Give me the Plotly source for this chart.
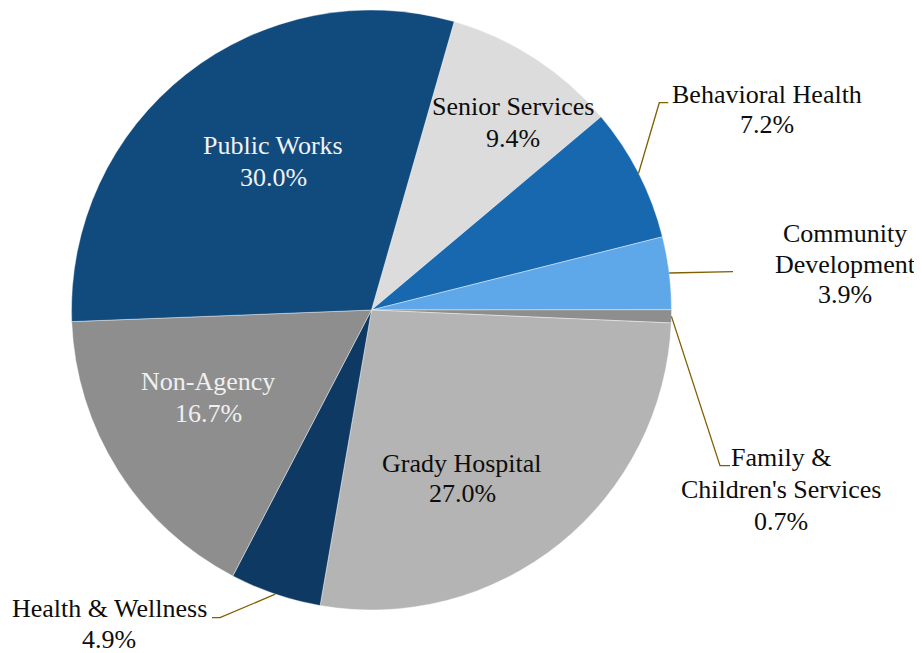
import math
import plotly.graph_objects as go

# ---- data ----
categories = ["Senior Services", "Behavioral Health", "Community Development",
              "Family & Children's Services", "Grady Hospital", "Health & Wellness",
              "Non-Agency", "Public Works"]
shares = [9.4, 7.2, 3.9, 0.7, 27.0, 4.9, 16.7, 30.0]
label_text = ["Senior Services", "Behavioral Health", "Community<br>Development",
              "Family &<br>Children's Services", "Grady Hospital", "Health & Wellness",
              "Non-Agency", "Public Works"]

# ---- style ----
colors = ["#DCDCDC", "#1868B0", "#5EA7E8", "#8E8E8E", "#B4B4B4", "#0E3963", "#8E8E8E", "#114B7E"]
OFF = 8  # page body margin
W, H = 922 - OFF, 653 - OFF
CX, CY, R = 371.5, 310.0, 300.0   # in page pixels
ROT = 16.0
FONT = "'Liberation Serif', 'Times New Roman', 'DejaVu Serif', serif"
FS = 26
LEADER = "#7F6000"

# label x centre and line baselines (page pixels), text colour
label_pos = {
    "Senior Services": (513, [115, 147], "#0D0D0D"),
    "Behavioral Health": (767, [102.7, 133], "#0D0D0D"),
    "Community Development": (845, [241.7, 273.3, 303], "#0D0D0D"),
    "Family & Children's Services": (781, [465.7, 498.3, 530], "#0D0D0D"),
    "Grady Hospital": (462, [471.7, 502.3], "#0D0D0D"),
    "Health & Wellness": (109, [616.7, 648.3], "#0D0D0D"),
    "Non-Agency": (208, [390, 422], "#F0F0F0"),
    "Public Works": (273, [154, 186], "#F2F2F2"),
}
# leader line elbow / end points (page pixels)
leaders = {
    "Behavioral Health": [(659.3, 102.7), (668.3, 102.7)],
    "Community Development": [(733, 271.7)],
    "Family & Children's Services": [(720, 465.7), (730, 465.7)],
    "Health & Wellness": [(220, 617.7), (212, 617.7)],
}
BASE_TO_MID = 8.5


def px_to_paper(x, y):
    return (x - OFF) / W, 1 - (y - OFF) / H


fig = go.Figure()
dx0, dy1 = px_to_paper(CX - R, CY - R)
dx1, dy0 = px_to_paper(CX + R, CY + R)
fig.add_trace(go.Pie(
    labels=categories, values=shares, sort=False, direction="clockwise",
    rotation=ROT, marker=dict(colors=colors, line=dict(color="white", width=0.4)),
    textinfo="none", hoverinfo="label+percent", showlegend=False,
    domain=dict(x=[dx0, dx1], y=[dy0, dy1]),
))

total = sum(shares)
cum = 0.0
annotations = []
shapes = []
for cat, val, txt in zip(categories, shares, label_text):
    mid = ROT + (cum + val / 2) / total * 360.0
    cum += val
    x, baselines, col = label_pos[cat]
    lines = txt.split("<br>") + [f"{val:.1f}%"]
    for line, b in zip(lines, baselines):
        px, py = px_to_paper(x, b - BASE_TO_MID)
        annotations.append(dict(
            x=px, y=py, xref="paper", yref="paper", xanchor="center", yanchor="middle",
            text=line, showarrow=False, align="center",
            font=dict(family=FONT, size=FS, color=col)))
    if cat in leaders:
        a = math.radians(mid)
        sx, sy = CX + R * math.sin(a), CY - R * math.cos(a)
        pts = [(sx, sy)] + leaders[cat]
        path = ""
        for i, (qx, qy) in enumerate(pts):
            ux, uy = px_to_paper(qx, qy)
            path += ("M" if i == 0 else " L") + f" {ux:.5f} {uy:.5f}"
        shapes.append(dict(type="path", path=path, xref="paper", yref="paper",
                           line=dict(color=LEADER, width=1.3)))

fig.update_layout(
    width=W, height=H, margin=dict(l=0, r=0, t=0, b=0),
    paper_bgcolor="white", plot_bgcolor="white",
    annotations=annotations, shapes=shapes,
    font=dict(family=FONT),
)
fig.write_html("out.html")
